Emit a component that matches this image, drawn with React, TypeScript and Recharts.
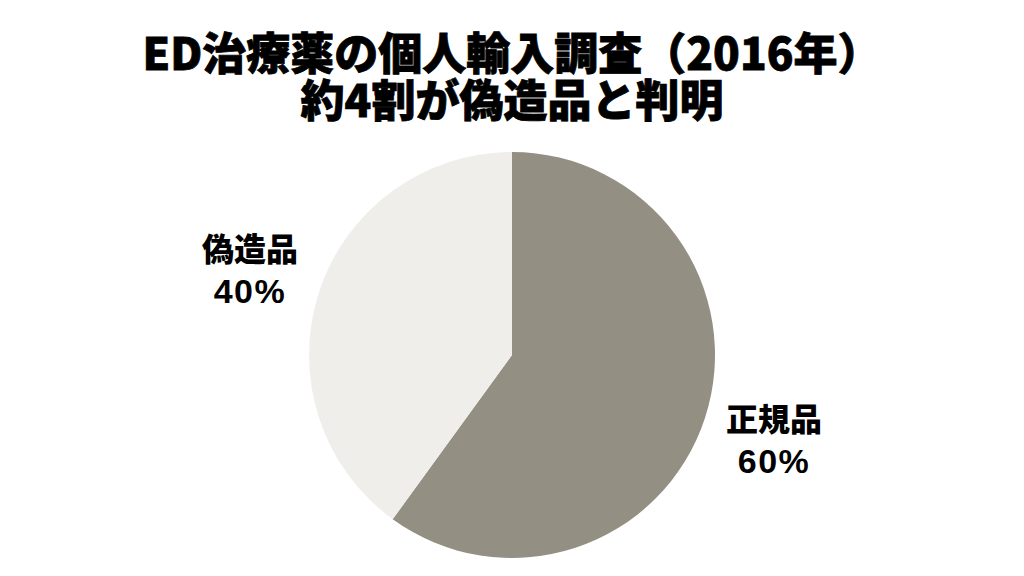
import React from 'react';
import { PieChart, Pie, Cell } from 'recharts';

const categories = ['正規品', '偽造品'];
const values = [60, 40];
const valueLabels = ['60%', '40%'];
const colors = ['#948f83', '#efeeea'];
const titleLines = ['ED治療薬の個人輸入調査（2016年）', '約4割が偽造品と判明'];

const data = categories.map((name, i) => ({ name, value: values[i], label: valueLabels[i] }));

const RADIAN = Math.PI / 180;
const FONT = '"Noto Sans CJK JP", "Noto Sans", sans-serif';
const NUM_FONT = '"Liberation Sans", Arial, sans-serif';

const renderLabel = (props: any) => {
  const { cx, cy, midAngle, outerRadius, index } = props;
  const r = outerRadius + 72.5;
  const x = cx + r * Math.cos(-midAngle * RADIAN);
  const y = cy + r * Math.sin(-midAngle * RADIAN);
  return (
    <g>
      <text x={x} y={y - 9} textAnchor="middle" fontFamily={FONT} fontWeight={900} fontSize={32} fill="#000">
        {data[index].name}
      </text>
      <text x={x} y={y + 33} textAnchor="middle" fontFamily={NUM_FONT} fontWeight={700} fontSize={34} letterSpacing={1.5} fill="#000">
        {data[index].label}
      </text>
    </g>
  );
};

export default function App() {
  return (
    <div style={{ position: 'absolute', left: 0, top: 0, width: 1024, height: 576, background: '#fff' }}>
      <PieChart
        width={1024}
        height={576}
        margin={{ top: 0, right: 0, bottom: 0, left: 0 }}
        style={{ position: 'absolute', left: 0, top: 0 }}
      >
        <Pie
          data={data}
          dataKey="value"
          nameKey="name"
          cx={512}
          cy={355}
          outerRadius={203}
          startAngle={90}
          endAngle={-270}
          stroke="none"
          isAnimationActive={false}
          labelLine={false}
          label={renderLabel}
        >
          {data.map((d, i) => (
            <Cell key={d.name} fill={colors[i]} />
          ))}
        </Pie>
      </PieChart>
      <svg width={1024} height={140} style={{ position: 'absolute', left: 0, top: 0, pointerEvents: 'none' }}>
        <text x={512} y={70} textAnchor="middle" fontFamily={FONT} fontWeight={900} fontSize={44} fill="#000" stroke="#000" strokeWidth={0.8}>
          {titleLines[0]}
        </text>
        <text x={512} y={117} textAnchor="middle" fontFamily={FONT} fontWeight={900} fontSize={44} fill="#000" stroke="#000" strokeWidth={0.8}>
          {titleLines[1]}
        </text>
      </svg>
    </div>
  );
}
